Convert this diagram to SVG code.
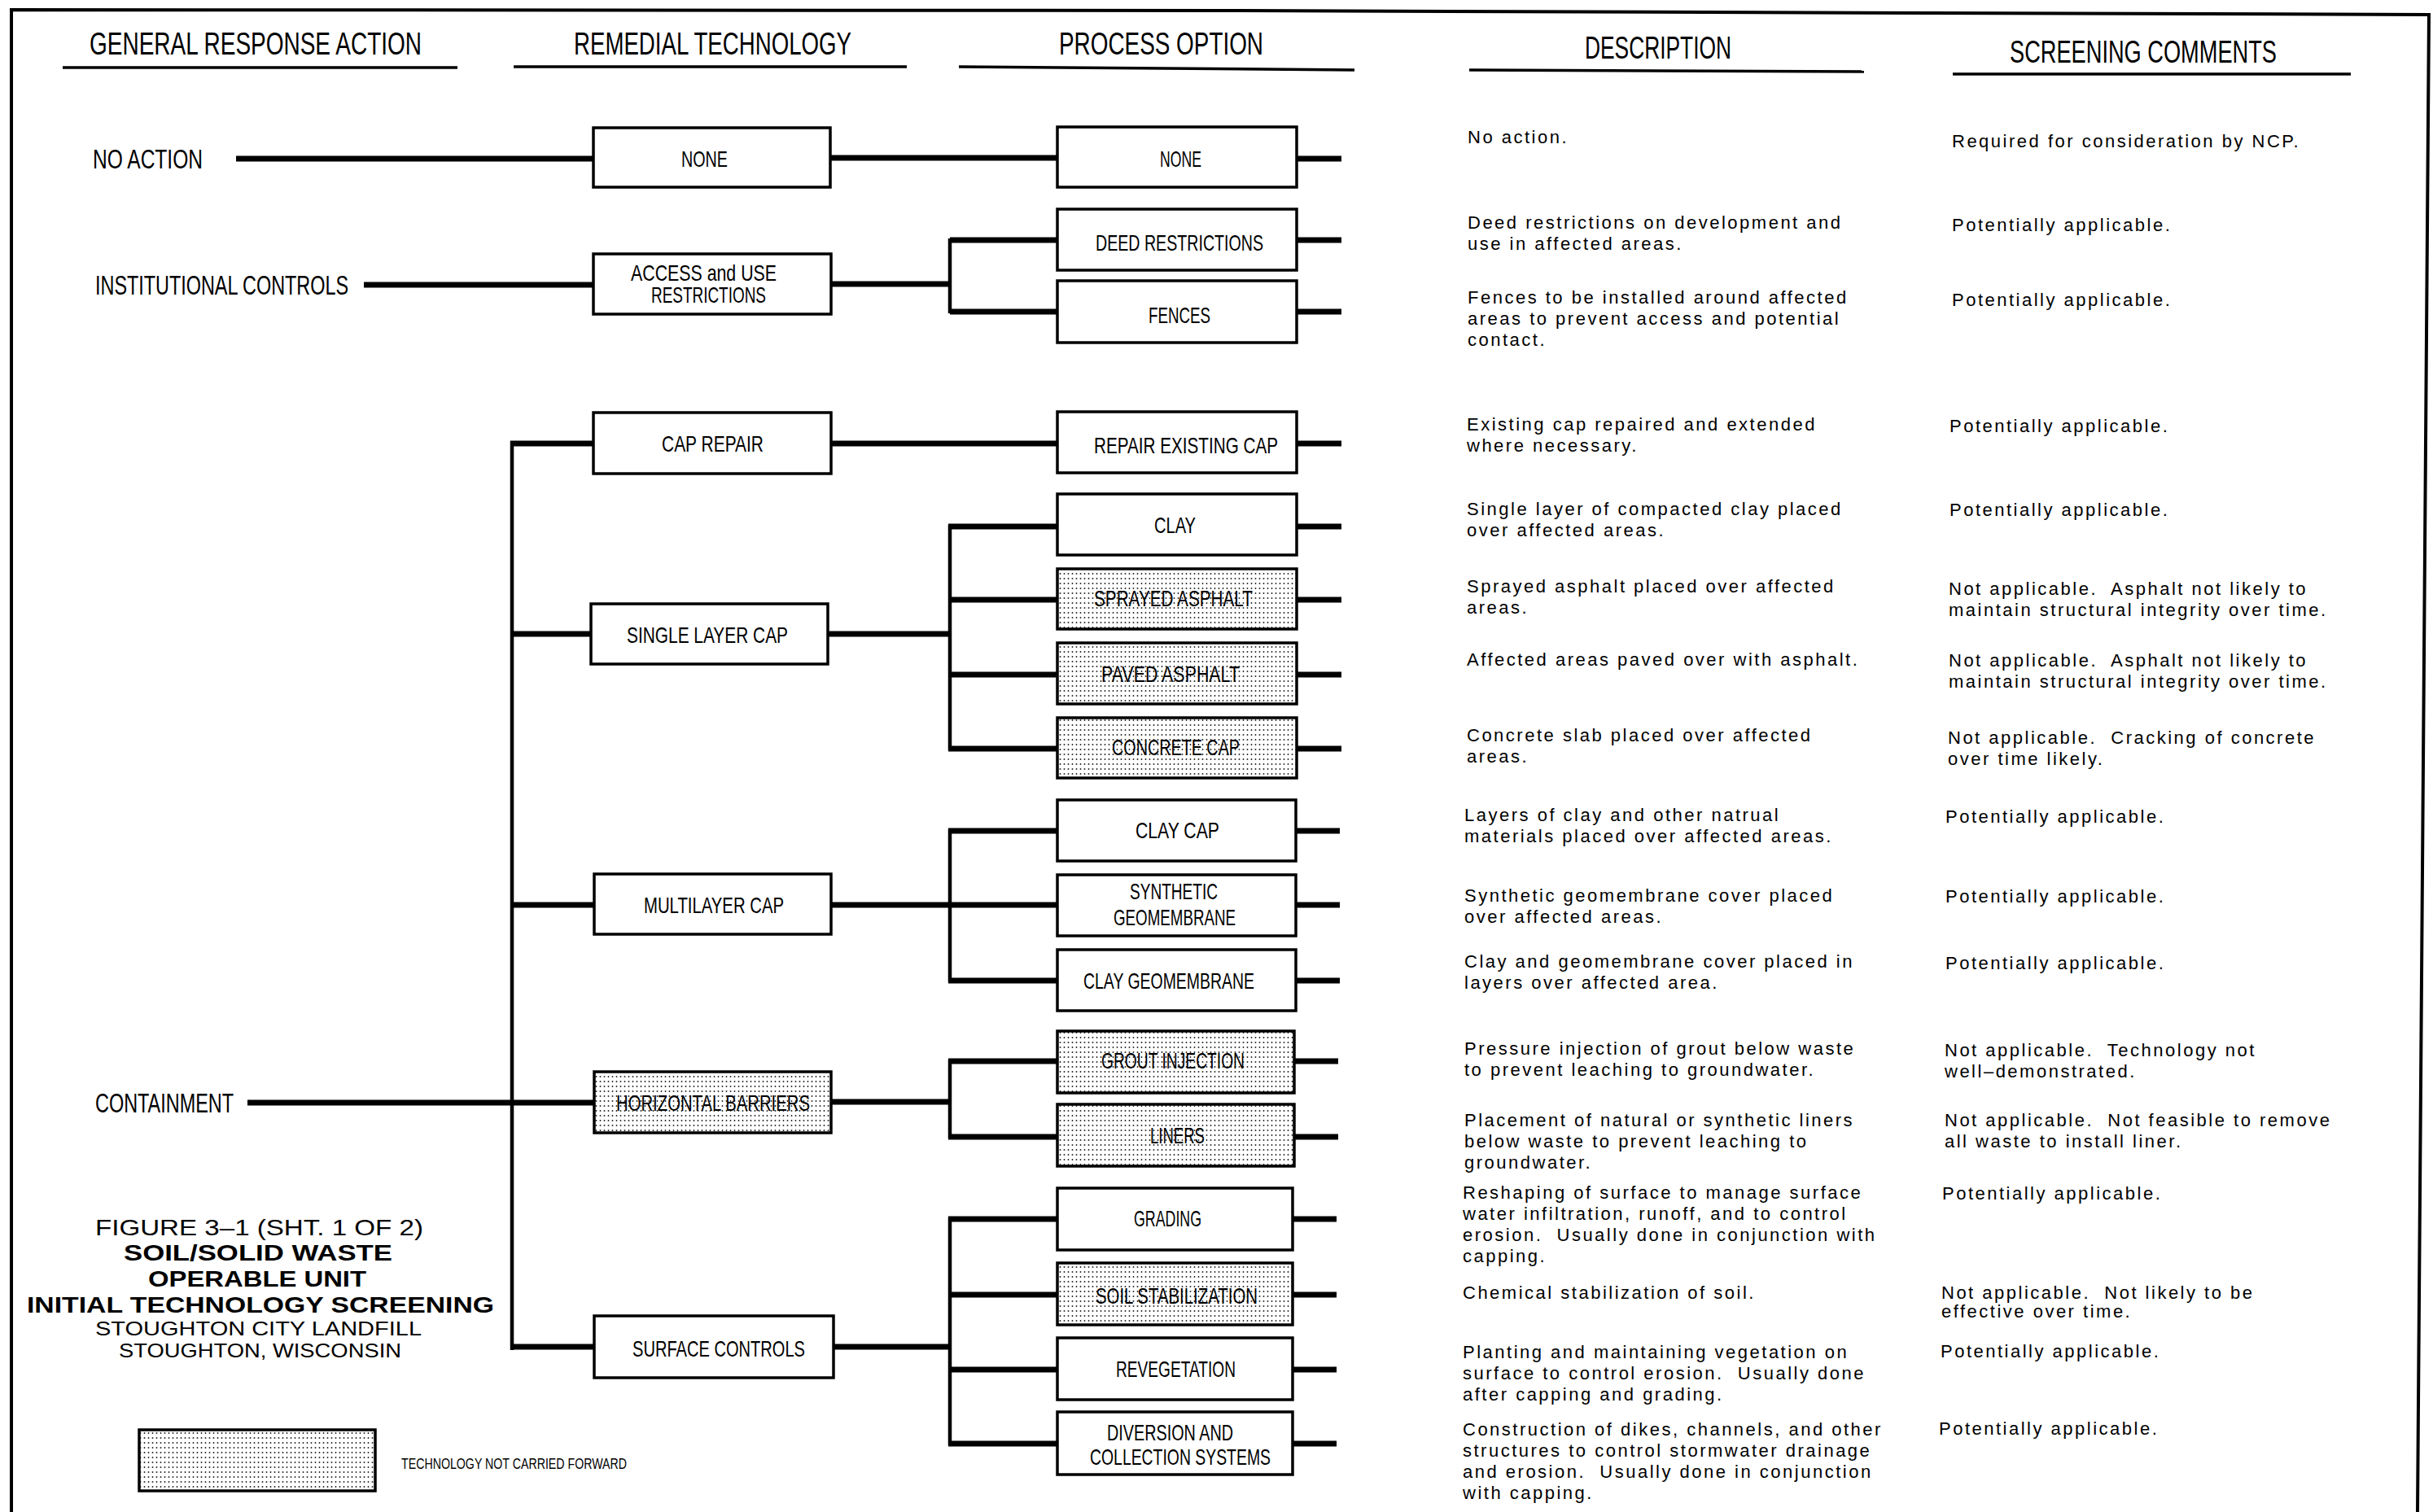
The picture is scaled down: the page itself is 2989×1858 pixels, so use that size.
<svg xmlns="http://www.w3.org/2000/svg" width="2989" height="1858" viewBox="0 0 2989 1858">
<defs>
<pattern id="dots" width="5" height="6" patternUnits="userSpaceOnUse">
<circle cx="2.5" cy="3" r="0.95" fill="#222"/>
</pattern>
</defs>
<style>
.frame{fill:none;stroke:#000;stroke-width:4}
.ul{fill:none;stroke:#000;stroke-width:3.5}
.hd{font-family:"Liberation Sans",Arial,sans-serif;font-size:39px;fill:#000}
.gra{font-family:"Liberation Sans",Arial,sans-serif;font-size:33px;fill:#000}
.lbl{font-family:"Liberation Sans",Arial,sans-serif;font-size:28px;fill:#000}
.box{fill:#fff;stroke:#000;stroke-width:3.5}
.hbox{fill:url(#dots);stroke:#000;stroke-width:3.5}
.h{fill:none;stroke:#000;stroke-width:7}
.v{fill:none;stroke:#000;stroke-width:4.5}
.tx{font-family:"Liberation Sans",Arial,sans-serif;font-size:22px;letter-spacing:2.5px;fill:#000}
.t1{font-family:"Liberation Sans",Arial,sans-serif;font-size:28px;fill:#000}
.t2{font-family:"Liberation Sans",Arial,sans-serif;font-size:28px;font-weight:bold;fill:#000}
.t3{font-family:"Liberation Sans",Arial,sans-serif;font-size:24px;fill:#000}
.lg{font-family:"Liberation Sans",Arial,sans-serif;font-size:18px;fill:#000}
</style>
<rect x="0" y="0" width="2989" height="1858" fill="#fff"/>
<path class="frame" d="M14,1858 L14,12 L1500,13 L2984,18 L2970,1858"/>

<g id="headers">
<text class="hd" x="110" y="67" textLength="408" lengthAdjust="spacingAndGlyphs">GENERAL RESPONSE ACTION</text>
<text class="hd" x="705" y="67" textLength="341" lengthAdjust="spacingAndGlyphs">REMEDIAL TECHNOLOGY</text>
<text class="hd" x="1301" y="67" textLength="251" lengthAdjust="spacingAndGlyphs">PROCESS OPTION</text>
<text class="hd" x="1947" y="72" textLength="180" lengthAdjust="spacingAndGlyphs">DESCRIPTION</text>
<text class="hd" x="2469" y="77" textLength="328" lengthAdjust="spacingAndGlyphs">SCREENING COMMENTS</text>
<path class="ul" d="M77,83 H562"/>
<path class="ul" d="M631,82 H1114"/>
<path class="ul" d="M1178,82 L1664,86"/>
<path class="ul" d="M1805,86 L2290,88"/>
<path class="ul" d="M2399,91 H2888"/>
</g>

<g id="connectors">
<path class="h" d="M290,195 H729"/>
<path class="h" d="M1020,194 H1299"/>
<path class="h" d="M447,350 H729"/>
<path class="h" d="M1021,349 H1167"/>
<path class="v" d="M1167,293 V385"/>
<path class="h" d="M1167,295 H1299 M1167,383 H1299"/>
<path class="h" d="M304,1355 H729"/>
<path class="v" d="M629,542 V1659"/>
<path class="h" d="M627,545 H729 M627,779 H726 M627,1112 H730 M627,1655 H730"/>
<path class="h" d="M1021,545 H1299"/>
<path class="h" d="M1017,779 H1167"/>
<path class="v" d="M1167,645 V922"/>
<path class="h" d="M1165,647 H1299 M1165,737 H1299 M1165,829 H1299 M1165,920 H1299"/>
<path class="h" d="M1021,1112 H1299"/>
<path class="v" d="M1167,1019 V1207"/>
<path class="h" d="M1165,1021 H1299 M1165,1205 H1299"/>
<path class="h" d="M1021,1354 H1167"/>
<path class="v" d="M1167,1302 V1399"/>
<path class="h" d="M1165,1304 H1299 M1165,1397 H1299"/>
<path class="h" d="M1024,1655 H1167"/>
<path class="v" d="M1167,1496 V1776"/>
<path class="h" d="M1165,1498 H1299 M1165,1591 H1299 M1165,1683 H1299 M1165,1774 H1299"/>
<path class="h" d="M1593,195 H1648 M1593,295 H1648 M1593,383 H1648 M1593,545 H1648 M1593,647 H1648 M1593,737 H1648 M1593,829 H1648 M1593,920 H1648 M1592,1021 H1646 M1592,1112 H1646 M1592,1205 H1646 M1590,1304 H1644 M1590,1397 H1644 M1588,1498 H1642 M1588,1591 H1642 M1588,1683 H1642 M1588,1774 H1642"/>
</g>

<g id="gra-labels">
<text class="gra" x="114" y="207" textLength="135" lengthAdjust="spacingAndGlyphs">NO ACTION</text>
<text class="gra" x="117" y="362" textLength="311" lengthAdjust="spacingAndGlyphs">INSTITUTIONAL CONTROLS</text>
<text class="gra" x="117" y="1367" textLength="170" lengthAdjust="spacingAndGlyphs">CONTAINMENT</text>
</g>

<g id="rt-none"><rect class="box" x="729" y="157" width="291" height="73"/><text class="lbl" x="837" y="205" textLength="57" lengthAdjust="spacingAndGlyphs">NONE</text></g>
<g id="rt-access"><rect class="box" x="729" y="312" width="292" height="74"/><text class="lbl" x="775" y="345" textLength="179" lengthAdjust="spacingAndGlyphs">ACCESS and USE</text><text class="lbl" x="800" y="372" textLength="141" lengthAdjust="spacingAndGlyphs">RESTRICTIONS</text></g>
<g id="rt-cap-repair"><rect class="box" x="729" y="507" width="292" height="75"/><text class="lbl" x="813" y="555" textLength="125" lengthAdjust="spacingAndGlyphs">CAP REPAIR</text></g>
<g id="rt-single"><rect class="box" x="726" y="742" width="291" height="74"/><text class="lbl" x="770" y="790" textLength="198" lengthAdjust="spacingAndGlyphs">SINGLE LAYER CAP</text></g>
<g id="rt-multi"><rect class="box" x="730" y="1074" width="291" height="74"/><text class="lbl" x="791" y="1122" textLength="172" lengthAdjust="spacingAndGlyphs">MULTILAYER CAP</text></g>
<g id="rt-horizontal"><rect class="hbox" x="730" y="1317" width="291" height="75"/><text class="lbl" x="757" y="1365" textLength="238" lengthAdjust="spacingAndGlyphs">HORIZONTAL BARRIERS</text></g>
<g id="rt-surface"><rect class="box" x="730" y="1617" width="294" height="76"/><text class="lbl" x="777" y="1667" textLength="212" lengthAdjust="spacingAndGlyphs">SURFACE CONTROLS</text></g>

<g id="po-none"><rect class="box" x="1299" y="156" width="294" height="74"/><text class="lbl" x="1425" y="205" textLength="51" lengthAdjust="spacingAndGlyphs">NONE</text></g>
<g id="po-deed"><rect class="box" x="1299" y="257" width="294" height="75"/><text class="lbl" x="1346" y="308" textLength="206" lengthAdjust="spacingAndGlyphs">DEED RESTRICTIONS</text></g>
<g id="po-fences"><rect class="box" x="1299" y="345" width="294" height="76"/><text class="lbl" x="1411" y="397" textLength="76" lengthAdjust="spacingAndGlyphs">FENCES</text></g>
<g id="po-repair"><rect class="box" x="1299" y="506" width="294" height="75"/><text class="lbl" x="1344" y="557" textLength="226" lengthAdjust="spacingAndGlyphs">REPAIR EXISTING CAP</text></g>
<g id="po-clay"><rect class="box" x="1299" y="607" width="294" height="75"/><text class="lbl" x="1418" y="655" textLength="51" lengthAdjust="spacingAndGlyphs">CLAY</text></g>
<g id="po-sprayed"><rect class="hbox" x="1299" y="699" width="294" height="74"/><text class="lbl" x="1344" y="745" textLength="195" lengthAdjust="spacingAndGlyphs">SPRAYED ASPHALT</text></g>
<g id="po-paved"><rect class="hbox" x="1299" y="790" width="294" height="75"/><text class="lbl" x="1353" y="838" textLength="170" lengthAdjust="spacingAndGlyphs">PAVED ASPHALT</text></g>
<g id="po-concrete"><rect class="hbox" x="1299" y="882" width="294" height="74"/><text class="lbl" x="1366" y="928" textLength="157" lengthAdjust="spacingAndGlyphs">CONCRETE CAP</text></g>
<g id="po-claycap"><rect class="box" x="1299" y="983" width="293" height="75"/><text class="lbl" x="1395" y="1030" textLength="103" lengthAdjust="spacingAndGlyphs">CLAY CAP</text></g>
<g id="po-synthetic"><rect class="box" x="1299" y="1075" width="293" height="75"/><text class="lbl" x="1388" y="1105" textLength="108" lengthAdjust="spacingAndGlyphs">SYNTHETIC</text><text class="lbl" x="1368" y="1137" textLength="150" lengthAdjust="spacingAndGlyphs">GEOMEMBRANE</text></g>
<g id="po-claygeo"><rect class="box" x="1299" y="1167" width="293" height="75"/><text class="lbl" x="1331" y="1215" textLength="210" lengthAdjust="spacingAndGlyphs">CLAY GEOMEMBRANE</text></g>
<g id="po-grout"><rect class="hbox" x="1299" y="1267" width="291" height="76"/><text class="lbl" x="1353" y="1313" textLength="176" lengthAdjust="spacingAndGlyphs">GROUT INJECTION</text></g>
<g id="po-liners"><rect class="hbox" x="1299" y="1357" width="291" height="76"/><text class="lbl" x="1413" y="1405" textLength="67" lengthAdjust="spacingAndGlyphs">LINERS</text></g>
<g id="po-grading"><rect class="box" x="1299" y="1460" width="289" height="76"/><text class="lbl" x="1393" y="1507" textLength="83" lengthAdjust="spacingAndGlyphs">GRADING</text></g>
<g id="po-soilstab"><rect class="hbox" x="1299" y="1552" width="289" height="76"/><text class="lbl" x="1346" y="1602" textLength="199" lengthAdjust="spacingAndGlyphs">SOIL STABILIZATION</text></g>
<g id="po-reveg"><rect class="box" x="1299" y="1644" width="289" height="76"/><text class="lbl" x="1371" y="1692" textLength="147" lengthAdjust="spacingAndGlyphs">REVEGETATION</text></g>
<g id="po-diversion"><rect class="box" x="1299" y="1735" width="289" height="77"/><text class="lbl" x="1360" y="1770" textLength="155" lengthAdjust="spacingAndGlyphs">DIVERSION AND</text><text class="lbl" x="1339" y="1800" textLength="222" lengthAdjust="spacingAndGlyphs">COLLECTION SYSTEMS</text></g>

<g id="descriptions" class="tx">
<text x="1803" y="176">No action.</text>
<text x="1803" y="281">Deed restrictions on development and</text>
<text x="1803" y="307">use in affected areas.</text>
<text x="1803" y="373">Fences to be installed around affected</text>
<text x="1803" y="399">areas to prevent access and potential</text>
<text x="1803" y="425">contact.</text>
<text x="1802" y="529">Existing cap repaired and extended</text>
<text x="1802" y="555">where necessary.</text>
<text x="1802" y="633">Single layer of compacted clay placed</text>
<text x="1802" y="659">over affected areas.</text>
<text x="1802" y="728">Sprayed asphalt placed over affected</text>
<text x="1802" y="754">areas.</text>
<text x="1802" y="818">Affected areas paved over with asphalt.</text>
<text x="1802" y="911">Concrete slab placed over affected</text>
<text x="1802" y="937">areas.</text>
<text x="1799" y="1009">Layers of clay and other natrual</text>
<text x="1799" y="1035">materials placed over affected areas.</text>
<text x="1799" y="1108">Synthetic geomembrane cover placed</text>
<text x="1799" y="1134">over affected areas.</text>
<text x="1799" y="1189">Clay and geomembrane cover placed in</text>
<text x="1799" y="1215">layers over affected area.</text>
<text x="1799" y="1296">Pressure injection of grout below waste</text>
<text x="1799" y="1322">to prevent leaching to groundwater.</text>
<text x="1799" y="1384">Placement of natural or synthetic liners</text>
<text x="1799" y="1410">below waste to prevent leaching to</text>
<text x="1799" y="1436">groundwater.</text>
<text x="1797" y="1473">Reshaping of surface to manage surface</text>
<text x="1797" y="1499">water infiltration, runoff, and to control</text>
<text x="1797" y="1525">erosion.&#160; Usually done in conjunction with</text>
<text x="1797" y="1551">capping.</text>
<text x="1797" y="1596">Chemical stabilization of soil.</text>
<text x="1797" y="1669">Planting and maintaining vegetation on</text>
<text x="1797" y="1695">surface to control erosion.&#160; Usually done</text>
<text x="1797" y="1721">after capping and grading.</text>
<text x="1797" y="1764">Construction of dikes, channels, and other</text>
<text x="1797" y="1790">structures to control stormwater drainage</text>
<text x="1797" y="1816">and erosion.&#160; Usually done in conjunction</text>
<text x="1797" y="1842">with capping.</text>
</g>

<g id="comments" class="tx">
<text x="2398" y="181">Required for consideration by NCP.</text>
<text x="2398" y="284">Potentially applicable.</text>
<text x="2398" y="376">Potentially applicable.</text>
<text x="2395" y="531">Potentially applicable.</text>
<text x="2395" y="634">Potentially applicable.</text>
<text x="2394" y="731">Not applicable.&#160; Asphalt not likely to</text>
<text x="2394" y="757">maintain structural integrity over time.</text>
<text x="2394" y="819">Not applicable.&#160; Asphalt not likely to</text>
<text x="2394" y="845">maintain structural integrity over time.</text>
<text x="2393" y="914">Not applicable.&#160; Cracking of concrete</text>
<text x="2393" y="940">over time likely.</text>
<text x="2390" y="1011">Potentially applicable.</text>
<text x="2390" y="1109">Potentially applicable.</text>
<text x="2390" y="1191">Potentially applicable.</text>
<text x="2389" y="1298">Not applicable.&#160; Technology not</text>
<text x="2389" y="1324">well–demonstrated.</text>
<text x="2389" y="1384">Not applicable.&#160; Not feasible to remove</text>
<text x="2389" y="1410">all waste to install liner.</text>
<text x="2386" y="1474">Potentially applicable.</text>
<text x="2385" y="1596">Not applicable.&#160; Not likely to be</text>
<text x="2385" y="1619">effective over time.</text>
<text x="2384" y="1668">Potentially applicable.</text>
<text x="2382" y="1763">Potentially applicable.</text>
</g>

<g id="title-block">
<text class="t1" x="117" y="1518" textLength="403" lengthAdjust="spacingAndGlyphs">FIGURE 3–1 (SHT. 1 OF 2)</text>
<text class="t2" x="152" y="1549" textLength="330" lengthAdjust="spacingAndGlyphs">SOIL/SOLID WASTE</text>
<text class="t2" x="182" y="1581" textLength="268" lengthAdjust="spacingAndGlyphs">OPERABLE UNIT</text>
<text class="t2" x="33" y="1613" textLength="574" lengthAdjust="spacingAndGlyphs">INITIAL TECHNOLOGY SCREENING</text>
<text class="t3" x="117" y="1641" textLength="401" lengthAdjust="spacingAndGlyphs">STOUGHTON CITY LANDFILL</text>
<text class="t3" x="146" y="1668" textLength="347" lengthAdjust="spacingAndGlyphs">STOUGHTON, WISCONSIN</text>
</g>

<g id="legend">
<rect class="hbox" x="171" y="1757" width="290" height="75"/>
<text class="lg" x="493" y="1805" textLength="277" lengthAdjust="spacingAndGlyphs">TECHNOLOGY NOT CARRIED FORWARD</text>
</g>
</svg>
